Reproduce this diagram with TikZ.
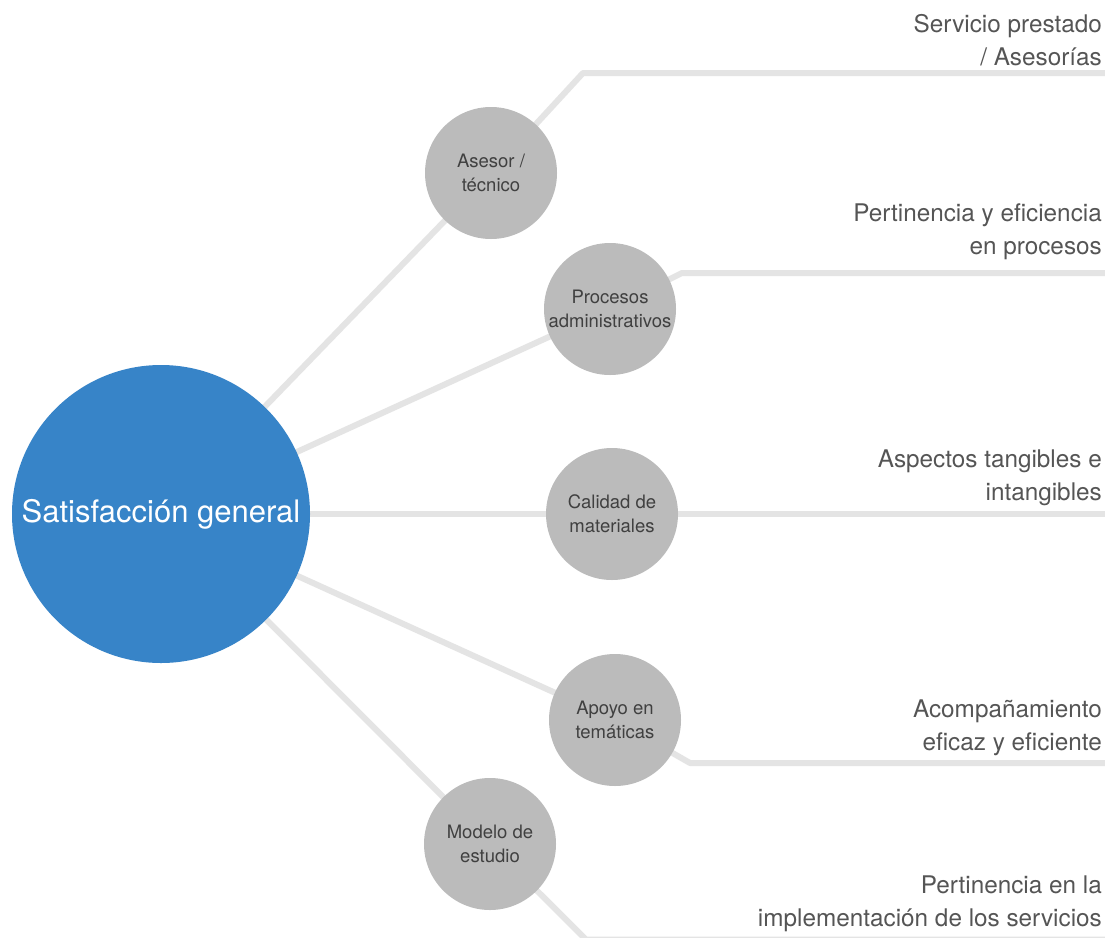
\documentclass[tikz,border=0pt]{standalone}
\usepackage{fontspec}
\setmainfont{TeX Gyre Heros}
\usepackage{xcolor}
\usetikzlibrary{positioning, backgrounds}

\definecolor{satblue}{HTML}{3784C8}
\definecolor{bubgray}{HTML}{BBBBBB}
\definecolor{linkgray}{HTML}{E4E4E4}
\definecolor{txtgray}{HTML}{555555}

\tikzset{
	mainbub/.style={circle, fill=satblue, minimum size=298pt, inner sep=0pt, text=white, font=\fontsize{31}{36}\selectfont},
	subbub/.style={circle, fill=bubgray, minimum size=132pt, inner sep=0pt, align=center, text=black!75, font=\fontsize{18.5}{24}\selectfont},
	aspect/.style={anchor=east, inner sep=0pt, align=right, text=txtgray, font=\fontsize{24.3}{33}\selectfont},
	link/.style={linkgray, line width=6pt, line join=round},
}

\begin{document}
\begin{tikzpicture}[x=1pt, y=-1pt]
	\useasboundingbox (0, 0) rectangle (1105, 937);

	\node[mainbub] (sat) at (161, 514) {Satisfacción general};

	\node[subbub] (ases) at (491, 173) {Asesor /\\técnico};
	\node[subbub] (proc) at (610, 309) {Procesos\\administrativos};
	\node[subbub] (cal) at (612, 514) {Calidad de\\materiales};
	\node[subbub] (apoyo) at (615, 720) {Apoyo en\\temáticas};
	\node[subbub] (mod) at (490, 844) {Modelo de\\estudio};

	\coordinate (asesK) at (583, 73);  % corners
	\coordinate (procK) at (682, 273);
	\coordinate (apoyoK) at (690, 763);
	\coordinate (modK) at (586, 939.5);
	\coordinate (asesE) at (1105, 73);  % right ends
	\coordinate (procE) at (1105, 273);
	\coordinate (calE) at (1105, 514);
	\coordinate (apoyoE) at (1105, 763);
	\coordinate (modE) at (1105, 939.5);

	\begin{scope}[on background layer]
		\fill[white] (0, 0) rectangle (1105, 937);  % page

		\draw[link] (sat.center) -- (ases.center);
		\draw[link] (sat.center) -- (proc.center);
		\draw[link] (sat.center) -- (cal.center);
		\draw[link] (sat.center) -- (apoyo.center);
		\draw[link] (sat.center) -- (mod.center);

		\draw[link] (ases.center) -- (asesK) -- (asesE);
		\draw[link] (proc.center) -- (procK) -- (procE);
		\draw[link] (cal.center) -- (calE);
		\draw[link] (apoyo.center) -- (apoyoK) -- (apoyoE);
		\draw[link] (mod.center) -- (modK) -- (modE);
	\end{scope}

	\node[aspect] (asesT) at (1102, 40) {Servicio prestado\\/ Asesorías};
	\node[aspect] (procT) at (1102, 232) {Pertinencia y eficiencia\\en procesos};
	\node[aspect] (calT) at (1102, 478) {Aspectos tangibles e\\intangibles};
	\node[aspect] (apoyoT) at (1102, 728) {Acompañamiento\\eficaz y eficiente};
	\node[aspect] (modT) at (1102, 904) {Pertinencia en la\\implementación de los servicios};

\end{tikzpicture}
\end{document}
